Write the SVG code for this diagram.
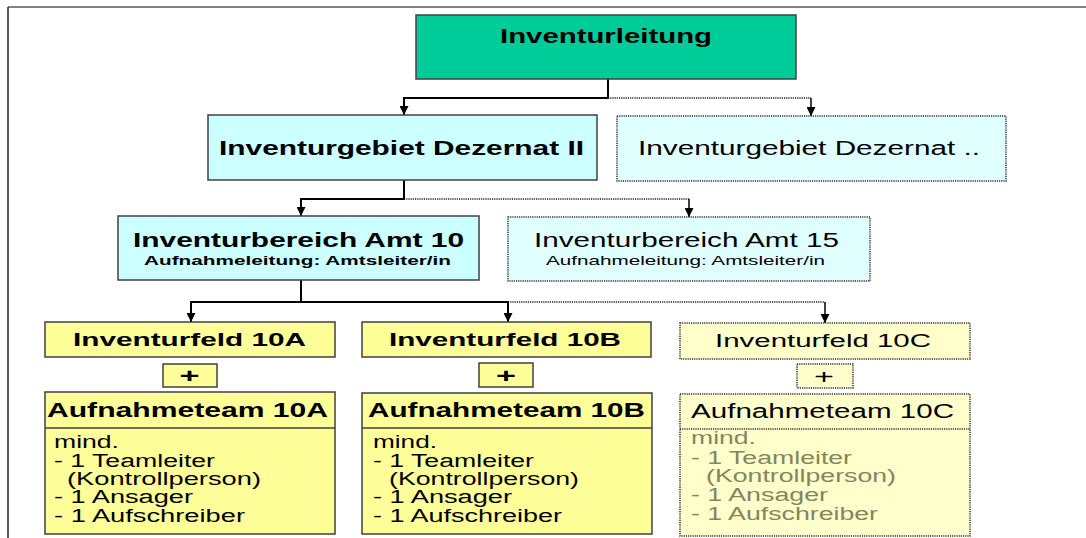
<svg xmlns="http://www.w3.org/2000/svg" width="1086" height="538" viewBox="0 0 1086 538">
<defs>
<marker id="ah" viewBox="0 0 10 10" refX="10" refY="5" markerWidth="9" markerHeight="9" markerUnits="userSpaceOnUse" orient="auto">
<path d="M0,0 L10,5 L0,10 Z" fill="#000"/>
</marker>
<style>
text{font-family:"Liberation Sans",Arial,sans-serif;fill:#000}
.b{font-weight:bold}
.t20{font-size:20px}
.t18{font-size:18px}
.t13{font-size:13px}
.t19{font-size:18px}
.g{fill:#85855e}
.solid{stroke:#404040;stroke-width:1.5}
.dot{stroke:#303030;stroke-width:1.5;stroke-dasharray:1.2 1}
.ln{fill:none;stroke:#000;stroke-width:2}
.dl{fill:none;stroke:#202020;stroke-width:1.5;stroke-dasharray:1.2 1}
.vl{fill:none;stroke:#000;stroke-width:1.5}
</style>
</defs>
<rect width="1086" height="538" fill="#fff"/>
<g id="frame">
<line x1="8" y1="7" x2="1086" y2="7" stroke="#808080" stroke-width="2"/>
<line x1="8" y1="7" x2="8" y2="538" stroke="#222" stroke-width="1.5"/>
</g>
<g id="connectors">
<path class="ln" d="M608,79 V98 H404 V115" marker-end="url(#ah)"/>
<path class="dl" d="M608,98 H811"/>
<path class="vl" d="M811,98 V116" marker-end="url(#ah)"/>
<path class="ln" d="M404,180 V199 H301 V216" marker-end="url(#ah)"/>
<path class="dl" d="M404,199 H689"/>
<path class="vl" d="M689,199 V217" marker-end="url(#ah)"/>
<path class="ln" d="M301,280 V302 H191 V322" marker-end="url(#ah)"/>
<path class="ln" d="M301,302 H508 V322" marker-end="url(#ah)"/>
<path class="dl" d="M508,302 H825"/>
<path class="vl" d="M825,302 V323" marker-end="url(#ah)"/>
</g>
<g id="n-inventurleitung">
<rect x="416" y="15" width="380" height="64" fill="#00cc99" class="solid"/>
<text class="b t20" x="500" y="43" textLength="212" lengthAdjust="spacingAndGlyphs">Inventurleitung</text>
</g>
<g id="n-dezernat2">
<rect x="208" y="115" width="389" height="65" fill="#ccffff" class="solid"/>
<text class="b t20" x="219" y="155" textLength="365" lengthAdjust="spacingAndGlyphs">Inventurgebiet Dezernat II</text>
</g>
<g id="n-dezernatx">
<rect x="617" y="116" width="389" height="65" fill="#e0ffff" class="dot"/>
<text class="t20" x="638" y="155" textLength="342" lengthAdjust="spacingAndGlyphs">Inventurgebiet Dezernat ..</text>
</g>
<g id="n-amt10">
<rect x="118" y="216" width="361" height="64" fill="#ccffff" class="solid"/>
<text class="b t20" x="133" y="247" textLength="331" lengthAdjust="spacingAndGlyphs">Inventurbereich Amt 10</text>
<text class="b t13" x="144" y="265" textLength="307" lengthAdjust="spacingAndGlyphs">Aufnahmeleitung: Amtsleiter/in</text>
</g>
<g id="n-amt15">
<rect x="508" y="217" width="362" height="64" fill="#e0ffff" class="dot"/>
<text class="t20" x="534" y="247" textLength="305" lengthAdjust="spacingAndGlyphs">Inventurbereich Amt 15</text>
<text class="t13" x="546" y="265" textLength="279" lengthAdjust="spacingAndGlyphs">Aufnahmeleitung: Amtsleiter/in</text>
</g>
<g id="n-feld10a">
<rect x="45" y="322" width="290" height="35" fill="#ffff99" class="solid"/>
<text class="b t18" x="73" y="346" textLength="233" lengthAdjust="spacingAndGlyphs">Inventurfeld 10A</text>
</g>
<g id="n-feld10b">
<rect x="362" y="322" width="289" height="35" fill="#ffff99" class="solid"/>
<text class="b t18" x="389" y="346" textLength="232" lengthAdjust="spacingAndGlyphs">Inventurfeld 10B</text>
</g>
<g id="n-feld10c">
<rect x="680" y="323" width="290" height="36" fill="#ffffcc" class="dot"/>
<text class="t18" x="715" y="347" textLength="216" lengthAdjust="spacingAndGlyphs">Inventurfeld 10C</text>
</g>
<g id="n-plus10a">
<rect x="163" y="364" width="54" height="23" fill="#ffff99" class="solid"/>
<text class="b t20" x="179.5" y="383" textLength="20" lengthAdjust="spacingAndGlyphs">+</text>
</g>
<g id="n-plus10b">
<rect x="479" y="363" width="54" height="24" fill="#ffff99" class="solid"/>
<text class="b t20" x="496" y="383" textLength="20" lengthAdjust="spacingAndGlyphs">+</text>
</g>
<g id="n-plus10c">
<rect x="797" y="364" width="56" height="24" fill="#ffffcc" class="dot"/>
<text class="t20" x="814" y="384" textLength="20" lengthAdjust="spacingAndGlyphs">+</text>
</g>
<g id="n-team10a">
<rect x="45" y="392" width="290" height="142" fill="#ffff99" class="solid"/>
<line x1="45" y1="428" x2="335" y2="428" class="solid"/>
<text class="b t20" x="47" y="417" textLength="281" lengthAdjust="spacingAndGlyphs">Aufnahmeteam 10A</text>
<text class="t19" x="54" y="448" textLength="65" lengthAdjust="spacingAndGlyphs">mind.</text>
<text class="t19" x="54" y="467" textLength="161" lengthAdjust="spacingAndGlyphs">- 1 Teamleiter</text>
<text class="t19" x="67" y="485" textLength="194" lengthAdjust="spacingAndGlyphs">(Kontrollperson)</text>
<text class="t19" x="54" y="503" textLength="139" lengthAdjust="spacingAndGlyphs">- 1 Ansager</text>
<text class="t19" x="54" y="522" textLength="191" lengthAdjust="spacingAndGlyphs">- 1 Aufschreiber</text>
</g>
<g id="n-team10b">
<rect x="362" y="393" width="290" height="141" fill="#ffff99" class="solid"/>
<line x1="362" y1="428" x2="652" y2="428" class="solid"/>
<text class="b t20" x="368" y="417" textLength="277" lengthAdjust="spacingAndGlyphs">Aufnahmeteam 10B</text>
<text class="t19" x="373" y="448" textLength="64" lengthAdjust="spacingAndGlyphs">mind.</text>
<text class="t19" x="373" y="467" textLength="161" lengthAdjust="spacingAndGlyphs">- 1 Teamleiter</text>
<text class="t19" x="389" y="485" textLength="190" lengthAdjust="spacingAndGlyphs">(Kontrollperson)</text>
<text class="t19" x="373" y="503" textLength="139" lengthAdjust="spacingAndGlyphs">- 1 Ansager</text>
<text class="t19" x="373" y="522" textLength="189" lengthAdjust="spacingAndGlyphs">- 1 Aufschreiber</text>
</g>
<g id="n-team10c">
<rect x="680" y="394" width="290" height="142" fill="#ffffcc" class="dot"/>
<line x1="680" y1="429" x2="970" y2="429" class="dot"/>
<text class="t20" x="691" y="418" textLength="263" lengthAdjust="spacingAndGlyphs">Aufnahmeteam 10C</text>
<text class="t19 g" x="691" y="444" textLength="65" lengthAdjust="spacingAndGlyphs">mind.</text>
<text class="t19 g" x="691" y="464" textLength="161" lengthAdjust="spacingAndGlyphs">- 1 Teamleiter</text>
<text class="t19 g" x="706" y="482" textLength="190" lengthAdjust="spacingAndGlyphs">(Kontrollperson)</text>
<text class="t19 g" x="691" y="501" textLength="137" lengthAdjust="spacingAndGlyphs">- 1 Ansager</text>
<text class="t19 g" x="691" y="520" textLength="187" lengthAdjust="spacingAndGlyphs">- 1 Aufschreiber</text>
</g>
</svg>
